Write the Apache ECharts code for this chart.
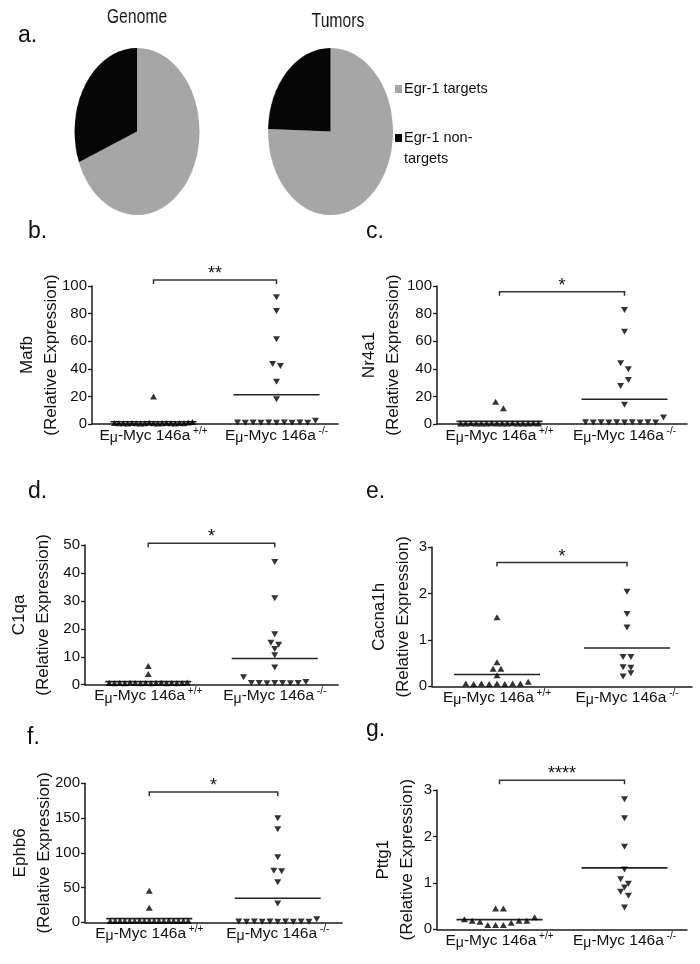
<!DOCTYPE html>
<html><head><meta charset="utf-8">
<script src="https://cdn.jsdelivr.net/npm/echarts@6/dist/echarts.min.js"></script>
<style>
html,body{margin:0;padding:0;background:#fff;}
#wrap{position:relative;width:700px;height:964px;}
#main{position:absolute;left:0;top:0;width:700px;height:964px;}
#pies{position:absolute;left:0;top:0;width:700px;height:240px;transform:scaleX(0.7485);transform-origin:0 0;pointer-events:none;}
</style></head><body>
<div id="wrap"><div id="main"></div><div id="pies"></div></div>
<script>
// ---------- data ----------
const pieCategories = ['Egr-1 targets', 'Egr-1 non-targets'];
const pieTitles = ['Genome', 'Tumors'];
const genomeShares = [69, 31];
const tumorShares = [75.5, 24.5];

const genotypes = ['+/+', '-/-'];
const panelLetters = ['b.', 'c.', 'd.', 'e.', 'f.', 'g.'];
const geneNames = ['Mafb', 'Nr4a1', 'C1qa', 'Cacna1h', 'Ephb6', 'Pttg1'];
const yMax = [100, 100, 50, 3, 200, 3];
const yStep = [20, 20, 10, 1, 50, 1];
const significance = ['**', '*', '*', '*', '*', '****'];
const bracketLevel = [104.3, 95.9, 50.6, 2.67, 187.6, 3.21];

// values grouped in the horizontal rows in which they are drawn
const mafbWT = [[20], [0.8, 0.5, 0.6, 0.4, 0.7, 0.5, 0.3, 0.6, 0.9, 0.5, 0.4, 0.6, 0.8, 0.5, 0.3, 0.7, 0.6, 1.0, 1.4]];
const mafbKO = [[91.8], [81.9], [61.4], [43.5, 42], [30.7], [17.9], [1.0, 0.9, 1.0, 0.9, 1.0, 0.9, 1.0, 0.9, 1.0, 0.9, 2.4]];
const nr4a1WT = [[16.2, 11.4], [0.4, 0.3, 0.5, 0.3, 0.4, 0.3, 0.5, 0.4, 0.3, 0.4, 0.5, 0.3, 0.4, 0.3, 0.5, 0.4]];
const nr4a1KO = [[82.6], [66.9], [44, 39.6], [27.5, 31.9], [14], [1.2, 1.1, 1.2, 1.1, 1.2, 1.1, 1.2, 1.1, 1.2, 1.1, 4.8]];
const c1qaWT = [[6.7], [3.8], [0.6, 0.5, 0.6, 0.5, 0.7, 0.6, 0.5, 0.6, 0.5, 0.6, 0.7, 0.5, 0.6, 0.5, 0.6, 0.8]];
const c1qaKO = [[43.9], [30.9], [18.1], [15, 14.3], [12.8], [10.5], [6.2], [2.7, 0.6, 0.6, 0.5, 0.6, 0.6, 0.5, 0.6, 1.0]];
const cacna1hWT = [[1.49], [0.52], [0.38, 0.38], [0.24], [0.06, 0.05, 0.06, 0.05, 0.06, 0.05, 0.06, 0.06, 0.1]];
const cacna1hKO = [[2.04], [1.56], [1.27], [0.63, 0.63], [0.41, 0.40], [0.21, 0.28]];
const ephb6WT = [[45.5], [21], [2, 1.8, 2, 1.9, 2, 1.8, 2.1, 1.9, 2, 1.8, 2, 1.9, 2.1, 1.8, 2, 1.9, 2.2]];
const ephb6KO = [[149.6], [134], [93.5], [74, 73.5], [57.5], [27], [1.0, 0.9, 1.0, 0.9, 1.0, 0.9, 1.0, 0.9, 1.0, 0.9, 4.5]];
const pttg1WT = [[0.45, 0.45], [0.215, 0.185, 0.16, 0.09, 0.09, 0.09, 0.14, 0.185, 0.185, 0.26]];
const pttg1KO = [[2.8], [2.39], [1.78], [1.29], [1.08, 0.98], [0.9], [0.81, 0.72], [0.47]];

const wtSets = [mafbWT, nr4a1WT, c1qaWT, cacna1hWT, ephb6WT, pttg1WT];
const koSets = [mafbKO, nr4a1KO, c1qaKO, cacna1hKO, ephb6KO, pttg1KO];

// ---------- layout ----------
const FONT = "'Liberation Sans', Arial, Helvetica, sans-serif";
const grids = [
  {left: 92, top: 286, width: 246, height: 138},
  {left: 437, top: 286, width: 250, height: 138},
  {left: 85, top: 545, width: 253, height: 139.7},
  {left: 432, top: 547.3, width: 260, height: 139},
  {left: 85, top: 783.3, width: 257, height: 139},
  {left: 437, top: 790, width: 250, height: 139.3}
];
const nameGaps = [28.5, 31.5, 29.5, 16.5, 28.5, 17.5];
const letterPos = [[28, 232], [366, 232], [28, 492], [366, 492], [27, 738], [366, 730]];

function flat(rows) { return rows.reduce((a, r) => a.concat(r), []); }
function mean(arr) { return arr.reduce((s, v) => s + v, 0) / arr.length; }
function spread(rows, center, unitPx) {
  const pts = [];
  rows.forEach(row => {
    const n = row.length;
    const sp = n > 1 ? Math.min(7.8, 78 / (n - 1)) : 0;
    row.forEach((v, i) => pts.push([center + (i - (n - 1) / 2) * sp / unitPx, v]));
  });
  return pts;
}

const xAxes = [], yAxes = [], series = [];
grids.forEach((g, p) => {
  xAxes.push({
    type: 'category', gridIndex: p, data: genotypes, boundaryGap: true,
    axisLine: {lineStyle: {color: '#1a1a1a', width: 1.5}},
    axisTick: {alignWithLabel: true, length: 4, lineStyle: {color: '#1a1a1a', width: 1.3}},
    axisLabel: {
      interval: 0, margin: 2, color: '#111', fontFamily: FONT,
      formatter: (v) => '{t|E}{mu|μ}{t|-Myc 146a}{sup| ' + v + '}',
      rich: {
        t: {fontSize: 15.5, lineHeight: 19, fontFamily: FONT, color: '#111'},
        mu: {fontSize: 14, lineHeight: 14, verticalAlign: 'bottom', fontFamily: FONT, color: '#111'},
        sup: {fontSize: 10, lineHeight: 10, verticalAlign: 'top', fontFamily: FONT, color: '#111'}
      }
    },
    splitLine: {show: false}
  });
  xAxes.push({type: 'value', gridIndex: p, min: 0, max: 4, show: false});
  yAxes.push({
    type: 'value', gridIndex: p, min: 0, max: yMax[p], interval: yStep[p],
    name: geneNames[p] + '\n(Relative Expression)', nameLocation: 'middle', nameGap: nameGaps[p],
    nameMoveOverlap: false,
    nameTextStyle: {fontSize: 17, lineHeight: 24, color: '#111', fontFamily: FONT},
    axisLine: {show: true, lineStyle: {color: '#1a1a1a', width: 1.5}},
    axisTick: {show: true, length: 4, lineStyle: {color: '#1a1a1a', width: 1.3}},
    axisLabel: {fontSize: 15, color: '#111', margin: 5, fontFamily: FONT},
    splitLine: {show: false}
  });
  const unitPx = g.width / 4;
  series.push({
    type: 'scatter', xAxisIndex: 2 * p + 1, yAxisIndex: p, silent: true,
    symbol: 'triangle', symbolSize: [7, 6], itemStyle: {color: '#000'},
    data: spread(wtSets[p], 1, unitPx)
  });
  series.push({
    type: 'scatter', xAxisIndex: 2 * p + 1, yAxisIndex: p, silent: true,
    symbol: 'triangle', symbolRotate: 180, symbolSize: [7, 6], itemStyle: {color: '#000'},
    data: spread(koSets[p], 3, unitPx)
  });
  series.push({
    type: 'custom', xAxisIndex: 2 * p + 1, yAxisIndex: p, silent: true, clip: false,
    data: [[1, mean(flat(wtSets[p]))], [3, mean(flat(koSets[p]))]],
    renderItem: (params, api) => {
      const c = api.coord([api.value(0), api.value(1)]);
      return {type: 'line', shape: {x1: c[0] - 43, y1: c[1], x2: c[0] + 43, y2: c[1]},
        style: {stroke: '#222', lineWidth: 1.6}};
    }
  });
  series.push({
    type: 'custom', xAxisIndex: 2 * p + 1, yAxisIndex: p, silent: true, clip: false,
    data: [[2, bracketLevel[p]]],
    renderItem: (params, api) => {
      const lvl = api.value(1);
      const a = api.coord([1, lvl]), b = api.coord([3, lvl]);
      return {type: 'group', children: [
        {type: 'polyline', shape: {points: [[a[0], a[1] + 4], [a[0], a[1]], [b[0], b[1]], [b[0], b[1] + 4]]},
          style: {stroke: '#333', lineWidth: 1.5, fill: null}},
        {type: 'text', style: {text: significance[p], x: (a[0] + b[0]) / 2, y: a[1] - 6,
          align: 'center', verticalAlign: 'middle', textAlign: 'center', textVerticalAlign: 'middle',
          fontSize: 18, fontFamily: FONT, fill: '#111'}}
      ]};
    }
  });
});

const graphics = [];
graphics.push({type: 'text', left: 18, top: 24, style: {text: 'a.', fontSize: 23, fontFamily: FONT, fill: '#111'}});
panelLetters.forEach((t, i) => {
  graphics.push({type: 'text', x: letterPos[i][0], y: letterPos[i][1],
    style: {text: t, fontSize: 23, fontFamily: FONT, fill: '#111', verticalAlign: 'middle', textVerticalAlign: 'middle'}});
});
// legend of the pies
graphics.push({type: 'rect', shape: {x: 395, y: 85, width: 7, height: 8}, style: {fill: '#a6a6a6'}});
graphics.push({type: 'text', x: 404, y: 89, style: {text: pieCategories[0], fontSize: 14.5, fontFamily: FONT, fill: '#111', verticalAlign: 'middle', textVerticalAlign: 'middle'}});
graphics.push({type: 'rect', shape: {x: 395, y: 134, width: 7, height: 8}, style: {fill: '#060606'}});
graphics.push({type: 'text', x: 404, y: 127.5, style: {text: 'Egr-1 non-\ntargets', fontSize: 14.5, lineHeight: 21, fontFamily: FONT, fill: '#111', verticalAlign: 'top', textVerticalAlign: 'top'}});

const main = echarts.init(document.getElementById('main'), null, {renderer: 'canvas'});
main.setOption({
  animation: false,
  backgroundColor: '#fff',
  grid: grids.map(g => Object.assign({containLabel: false}, g)),
  xAxis: xAxes,
  yAxis: yAxes,
  series: series,
  graphic: graphics
});

// ---------- pies (drawn in a horizontally squeezed box, as in the figure) ----------
const sx = 0.7485;
const pieColors = ['#a6a6a6', '#060606'];
const pie = echarts.init(document.getElementById('pies'), null, {renderer: 'canvas'});
function pieSeries(shares, cx) {
  return {
    type: 'pie', center: [cx / sx, 131.5], radius: 83.5, startAngle: 90, clockwise: true,
    silent: true, label: {show: false}, labelLine: {show: false},
    itemStyle: {borderWidth: 0},
    data: shares.map((v, i) => ({name: pieCategories[i], value: v, itemStyle: {color: pieColors[i]}}))
  };
}
pie.setOption({
  animation: false,
  series: [pieSeries(genomeShares, 137), pieSeries(tumorShares, 330.5)],
  graphic: [
    {type: 'text', x: 137 / sx, y: 17.5, style: {text: pieTitles[0], fontSize: 21, fontFamily: FONT, fill: '#111', align: 'center', verticalAlign: 'middle', textAlign: 'center', textVerticalAlign: 'middle'}},
    {type: 'text', x: 338 / sx, y: 21, style: {text: pieTitles[1], fontSize: 21, fontFamily: FONT, fill: '#111', align: 'center', verticalAlign: 'middle', textAlign: 'center', textVerticalAlign: 'middle'}}
  ]
});
</script>
</body></html>
